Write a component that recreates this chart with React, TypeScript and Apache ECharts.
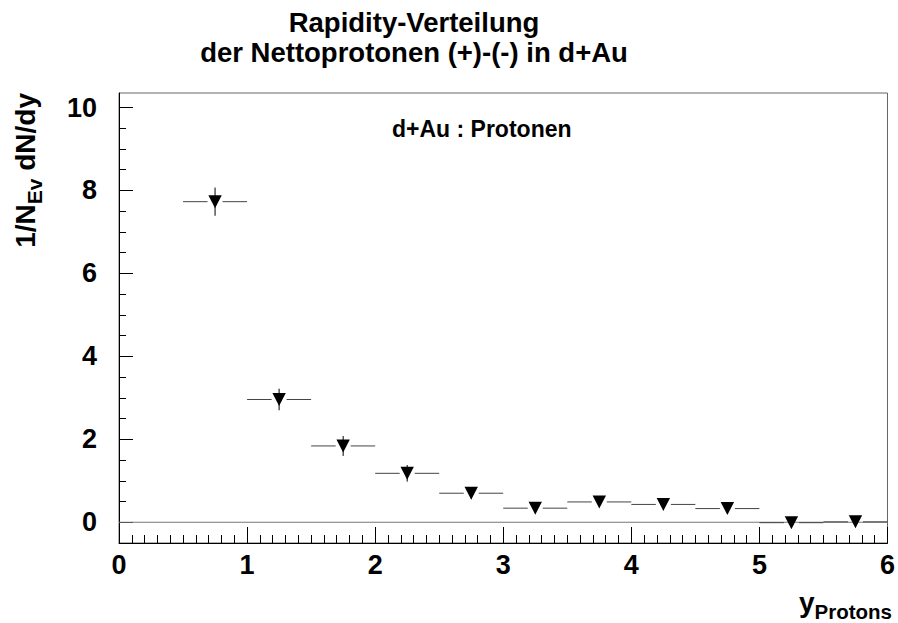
import React, { useEffect, useRef } from "react";
import * as echarts from "echarts";

// ---- data ----
const binCenters = [0.75, 1.25, 1.75, 2.25, 2.75, 3.25, 3.75, 4.25, 4.75, 5.25, 5.75];
const binHalfWidth = 0.25;
const values = [7.73, 2.96, 1.84, 1.18, 0.7, 0.34, 0.49, 0.43, 0.33, -0.01, 0.01];
const errors = [0.34, 0.26, 0.24, 0.2, 0.12, 0.1, 0.1, 0.1, 0.1, 0.06, 0.06];
const xMajorTicks = [0, 1, 2, 3, 4, 5, 6];
const yMajorTicks = [0, 2, 4, 6, 8, 10];
const yMinorTicks = [0.5, 1, 1.5, 2.5, 3, 3.5, 4.5, 5, 5.5, 6.5, 7, 7.5, 8.5, 9, 9.5];
const zeroLine = [[0, 0], [6, 0]];

const titleLines = ["Rapidity-Verteilung", "der Nettoprotonen (+)-(-) in d+Au"];
const labelText = "d+Au : Protonen";

const FONT = "'Liberation Sans', Arial, Helvetica, sans-serif";
const NARROW = "'Liberation Sans Narrow', 'Liberation Sans', Arial, sans-serif";

export default function App() {
  const ref = useRef<HTMLDivElement>(null);
  useEffect(() => {
    document.body.style.margin = "0";
    const chart = echarts.init(ref.current!, null, { renderer: "svg" });
    const data = binCenters.map((x, i) => [x, values[i], errors[i]]);
    const option: any = {
      animation: false,
      backgroundColor: "#fff",
      grid: {
        left: 119,
        top: 93,
        right: 7,
        bottom: 80,
        show: true,
        borderColor: "#666",
        borderWidth: 1,
        backgroundColor: "transparent",
      },
      xAxis: {
        type: "value",
        min: xMajorTicks[0],
        max: xMajorTicks[xMajorTicks.length - 1],
        interval: 1,
        axisLine: { show: true, onZero: false, lineStyle: { color: "#000", width: 1 } },
        axisTick: { show: true, inside: true, length: 16, lineStyle: { color: "#000", width: 1 } },
        minorTick: { show: true, splitNumber: 10, length: 8, lineStyle: { color: "#000", width: 1 } },
        splitLine: { show: false },
        axisLabel: {
          show: true,
          margin: 8,
          color: "#000",
          fontFamily: NARROW,
          fontWeight: "bold",
          fontSize: 27,
        },
      },
      yAxis: [
        {
          type: "value",
          min: -0.5,
          max: 10.35,
          position: "left",
          axisLine: { show: true, onZero: false, lineStyle: { color: "#000", width: 1 } },
          axisTick: {
            show: true,
            inside: true,
            length: 14,
            customValues: yMajorTicks,
            lineStyle: { color: "#000", width: 1 },
          },
          axisLabel: {
            show: true,
            customValues: yMajorTicks,
            margin: 22,
            color: "#000",
            fontFamily: NARROW,
            fontWeight: "bold",
            fontSize: 27,
          },
          splitLine: { show: false },
        },
        {
          type: "value",
          min: -0.5,
          max: 10.35,
          position: "left",
          offset: 0,
          axisLine: { show: false },
          axisTick: {
            show: true,
            inside: true,
            length: 7,
            customValues: yMinorTicks,
            lineStyle: { color: "#000", width: 1 },
          },
          axisLabel: { show: false },
          splitLine: { show: false },
        },
      ],
      series: [
        {
          type: "line",
          data: zeroLine,
          showSymbol: false,
          symbol: "none",
          lineStyle: { color: "#777", width: 1 },
          silent: true,
          z: 1,
        },
        {
          type: "custom",
          data,
          encode: { x: 0, y: 1 },
          z: 3,
          renderItem: (params: any, api: any) => {
            const x = api.value(0);
            const y = api.value(1);
            const e = api.value(2);
            const c = api.coord([x, y]);
            const l = api.coord([x - binHalfWidth, y]);
            const r = api.coord([x + binHalfWidth, y]);
            const t = api.coord([x, y + e]);
            const b = api.coord([x, y - e]);
            const gap = 7.5;
            const hw = 6.7;
            const hh = 6.5;
            const ls = { stroke: "#444", lineWidth: 1 };
            return {
              type: "group",
              children: [
                { type: "line", shape: { x1: l[0], y1: c[1], x2: c[0] - gap, y2: c[1] }, style: ls },
                { type: "line", shape: { x1: c[0] + gap, y1: c[1], x2: r[0], y2: c[1] }, style: ls },
                { type: "line", shape: { x1: c[0], y1: t[1], x2: c[0], y2: b[1] }, style: { stroke: "#000", lineWidth: 1 } },
                {
                  type: "polygon",
                  shape: {
                    points: [
                      [c[0] - hw, c[1] - hh],
                      [c[0] + hw, c[1] - hh],
                      [c[0], c[1] + hh],
                    ],
                  },
                  style: { fill: "#000" },
                },
              ],
            };
          },
        },
      ],
      graphic: [
        {
          type: "text",
          x: 414,
          y: 22.5,
          style: {
            text: titleLines[0],
            fontFamily: FONT,
            fontWeight: "bold",
            fontSize: 27.5,
            fill: "#000",
            align: "center",
            verticalAlign: "middle",
          },
        },
        {
          type: "text",
          x: 414,
          y: 52,
          style: {
            text: titleLines[1],
            fontFamily: FONT,
            fontWeight: "bold",
            fontSize: 27.5,
            fill: "#000",
            align: "center",
            verticalAlign: "middle",
          },
        },
        {
          type: "text",
          x: 392,
          y: 129,
          style: {
            text: labelText,
            fontFamily: FONT,
            fontWeight: "bold",
            fontSize: 23,
            fill: "#000",
            align: "left",
            verticalAlign: "middle",
          },
        },
        {
          type: "text",
          x: 45,
          y: 93,
          rotation: Math.PI / 2,
          style: {
            text: "{m|1/N}{s|Ev}{m| dN/dy}",
            align: "right",
            verticalAlign: "bottom",
            fill: "#000",
            rich: {
              m: {
                fontFamily: FONT,
                fontWeight: "bold",
                fontSize: 28,
                lineHeight: 28,
                padding: [0, 0, 6, 0],
                verticalAlign: "bottom",
                fill: "#000",
              },
              s: {
                fontFamily: FONT,
                fontWeight: "bold",
                fontSize: 21,
                lineHeight: 21,
                verticalAlign: "bottom",
                fill: "#000",
              },
            },
          },
        },
        {
          type: "text",
          x: 892,
          y: 622,
          style: {
            text: "{m|y}{s|Protons}",
            align: "right",
            verticalAlign: "bottom",
            fill: "#000",
            rich: {
              m: {
                fontFamily: FONT,
                fontWeight: "bold",
                fontSize: 28,
                lineHeight: 28,
                padding: [0, 0, 6, 0],
                verticalAlign: "bottom",
                fill: "#000",
              },
              s: {
                fontFamily: FONT,
                fontWeight: "bold",
                fontSize: 20.5,
                lineHeight: 20.5,
                verticalAlign: "bottom",
                fill: "#000",
              },
            },
          },
        },
      ],
    };
    chart.setOption(option);
    return () => chart.dispose();
  }, []);
  return <div ref={ref} style={{ width: 898, height: 623 }} />;
}
